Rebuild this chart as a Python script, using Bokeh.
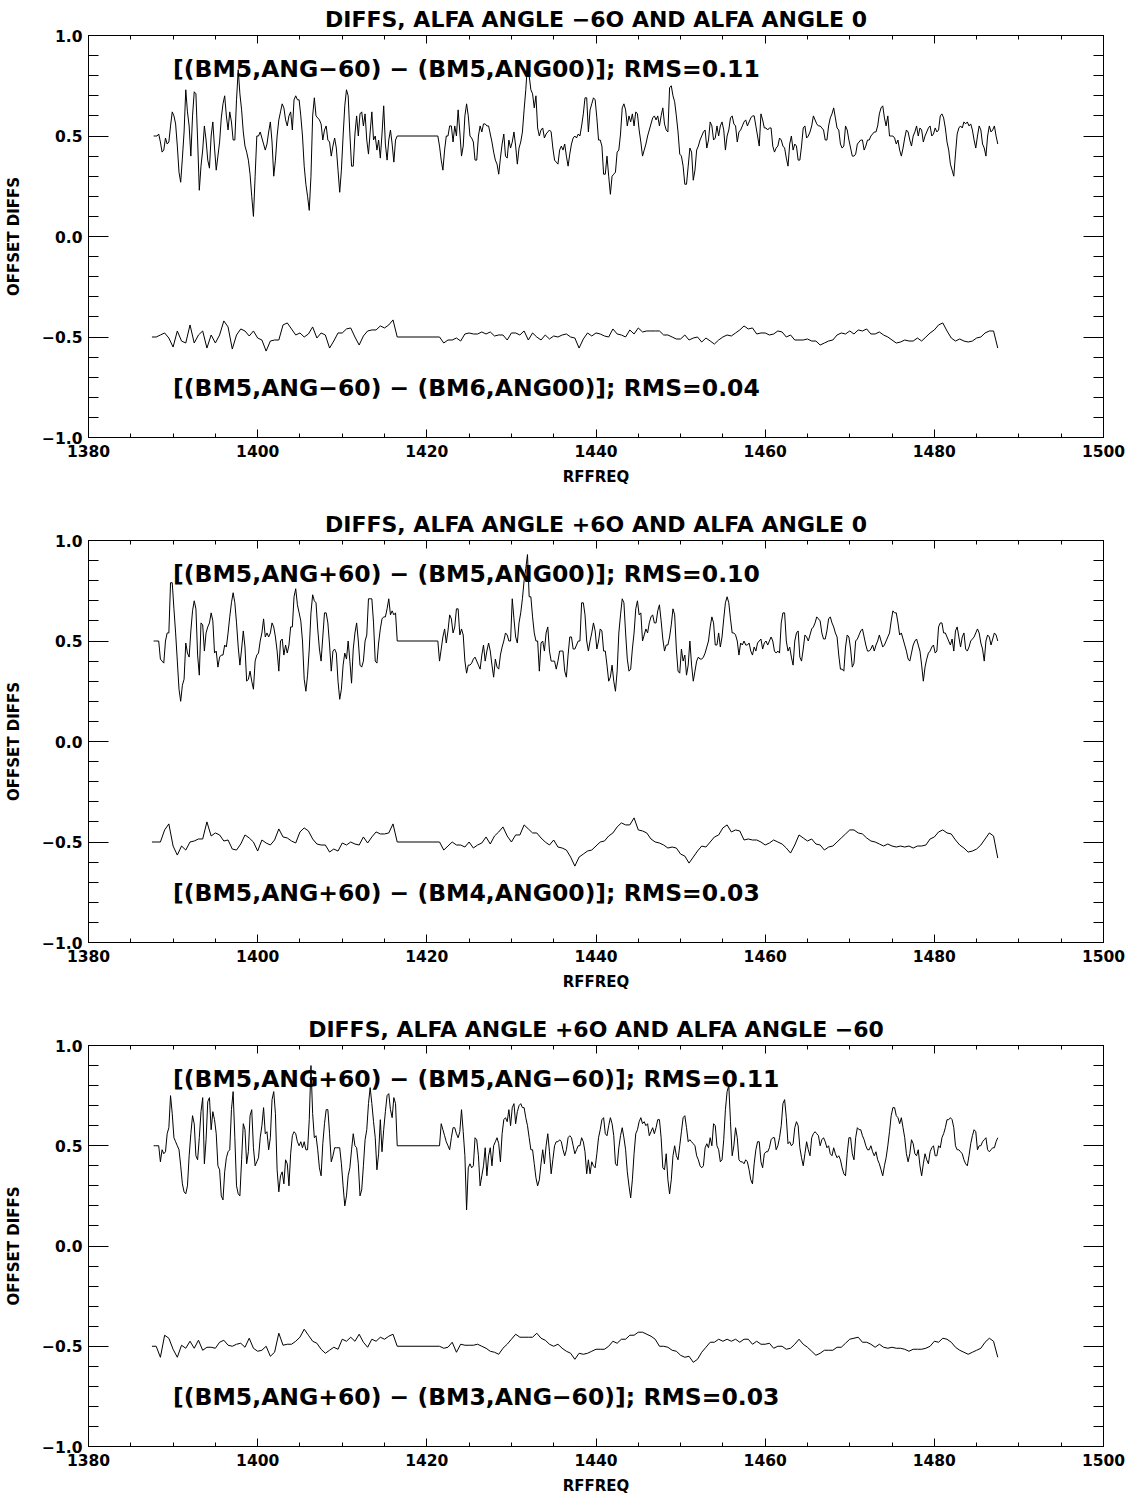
import numpy as np
from bokeh.plotting import figure
from bokeh.models import Range1d, LinearAxis, FixedTicker, Label
from bokeh.layouts import column
from bokeh.embed import file_html
from bokeh.resources import INLINE

FONT = "DejaVu Sans"

# ---------------- axes / text ----------------
x_ticks = [1380, 1400, 1420, 1440, 1460, 1480, 1500]
x_minor = list(range(1380, 1501, 5))
y_ticks = [-1.0, -0.5, 0.0, 0.5, 1.0]
y_minor = [round(-1.0 + 0.1 * i, 1) for i in range(21)]
y_tick_labels = {-1.0: "\u22121.0", -0.5: "\u22120.5", 0.0: "0.0", 0.5: "0.5", 1.0: "1.0"}

titles = [
    "DIFFS, ALFA ANGLE \u22126O AND ALFA ANGLE 0",
    "DIFFS, ALFA ANGLE +6O AND ALFA ANGLE 0",
    "DIFFS, ALFA ANGLE +6O AND ALFA ANGLE \u221260",
]
top_texts = [
    "[(BM5,ANG\u221260) \u2212 (BM5,ANG00)]; RMS=0.11",
    "[(BM5,ANG+60) \u2212 (BM5,ANG00)]; RMS=0.10",
    "[(BM5,ANG+60) \u2212 (BM5,ANG\u221260)]; RMS=0.11",
]
bot_texts = [
    "[(BM5,ANG\u221260) \u2212 (BM6,ANG00)]; RMS=0.04",
    "[(BM5,ANG+60) \u2212 (BM4,ANG00)]; RMS=0.03",
    "[(BM5,ANG+60) \u2212 (BM3,ANG\u221260)]; RMS=0.03",
]
x_title = "RFFREQ"
y_title = "OFFSET DIFFS"
text_x = 1390.0
text_y_top = 0.835
text_y_bot = -0.755

# ---------------- data ----------------
# upper curves: 0.2 MHz channels
top_f0_pre = 1387.7
top_f0_post = 1421.5
top_df = 0.2
top_gap_f = [1416.5, 1421.3]
top_gap_v = 0.5
# lower curves: 0.5 MHz channels
bot_f0_pre = 1387.5
bot_f0_post = 1422.0
bot_df = 0.5
bot_gap_f = [1416.5, 1421.5]
bot_gap_v = -0.5

top1_pre = [
0.50,0.50,0.50,0.51,0.47,0.42,0.43,0.49,0.46,0.47,
0.55,0.62,0.60,0.56,0.45,0.32,0.27,0.39,0.52,0.73,
0.62,0.55,0.40,0.60,0.72,0.71,0.48,0.23,0.35,0.43,
0.55,0.48,0.38,0.34,0.50,0.57,0.44,0.33,0.40,0.47,
0.59,0.66,0.70,0.60,0.53,0.62,0.57,0.48,0.48,0.68,
0.83,0.71,0.63,0.52,0.45,0.42,0.38,0.31,0.20,0.10,
0.30,0.50,0.50,0.52,0.49,0.46,0.43,0.46,0.52,0.57,
0.47,0.30,0.38,0.50,0.58,0.62,0.66,0.64,0.58,0.55,
0.60,0.62,0.53,0.68,0.70,0.68,0.68,0.60,0.50,0.35,
0.26,0.20,0.13,0.30,0.60,0.69,0.60,0.59,0.58,0.56,
0.48,0.53,0.55,0.48,0.47,0.40,0.45,0.49,0.44,0.33,
0.22,0.33,0.50,0.65,0.73,0.70,0.51,0.35,0.35,0.51,
0.60,0.50,0.61,0.62,0.55,0.61,0.48,0.41,0.52,0.62,
0.48,0.50,0.43,0.48,0.39,0.51,0.65,0.46,0.38,0.48,
0.53,0.46,0.37,0.48]
top1_post = [
0.45,0.38,0.33,0.43,0.50,0.50,0.55,0.55,0.47,0.55,
0.50,0.63,0.52,0.40,0.45,0.60,0.66,0.60,0.50,0.49,
0.47,0.38,0.38,0.50,0.55,0.52,0.56,0.56,0.55,0.55,
0.51,0.47,0.42,0.38,0.36,0.31,0.39,0.46,0.51,0.40,
0.39,0.48,0.44,0.47,0.52,0.45,0.36,0.44,0.47,0.52,
0.63,0.73,0.86,0.80,0.73,0.71,0.64,0.70,0.54,0.50,
0.53,0.54,0.49,0.51,0.52,0.53,0.52,0.44,0.38,0.37,
0.36,0.43,0.45,0.43,0.46,0.40,0.35,0.41,0.46,0.49,
0.50,0.49,0.51,0.50,0.55,0.61,0.69,0.69,0.52,0.63,
0.66,0.69,0.68,0.59,0.48,0.48,0.45,0.31,0.31,0.40,
0.30,0.21,0.30,0.31,0.32,0.42,0.43,0.51,0.64,0.66,
0.63,0.55,0.60,0.57,0.61,0.55,0.62,0.61,0.53,0.47,
0.40,0.43,0.46,0.50,0.53,0.56,0.59,0.60,0.58,0.60,
0.55,0.60,0.64,0.56,0.53,0.52,0.74,0.75,0.70,0.67,
0.60,0.52,0.41,0.40,0.35,0.26,0.26,0.35,0.44,0.42,
0.28,0.33,0.43,0.45,0.48,0.50,0.52,0.53,0.44,0.48,
0.57,0.55,0.48,0.49,0.55,0.50,0.55,0.57,0.53,0.43,
0.50,0.53,0.59,0.60,0.56,0.55,0.47,0.52,0.53,0.55,
0.57,0.58,0.55,0.57,0.59,0.60,0.60,0.55,0.50,0.45,
0.61,0.58,0.54,0.54,0.53,0.54,0.54,0.45,0.42,0.44,
0.45,0.49,0.48,0.45,0.44,0.39,0.35,0.46,0.50,0.43,
0.46,0.45,0.38,0.38,0.45,0.54,0.55,0.49,0.50,0.52,
0.55,0.60,0.58,0.56,0.55,0.55,0.54,0.53,0.48,0.48,
0.55,0.59,0.61,0.64,0.59,0.54,0.53,0.46,0.44,0.45,
0.55,0.53,0.48,0.44,0.40,0.40,0.41,0.46,0.47,0.48,
0.48,0.43,0.45,0.48,0.48,0.50,0.51,0.52,0.52,0.55,
0.61,0.64,0.65,0.59,0.55,0.60,0.50,0.50,0.50,0.49,
0.46,0.48,0.43,0.40,0.44,0.49,0.53,0.52,0.48,0.45,
0.50,0.52,0.55,0.50,0.54,0.53,0.47,0.50,0.52,0.54,
0.55,0.50,0.51,0.54,0.52,0.53,0.60,0.61,0.59,0.54,
0.47,0.43,0.36,0.33,0.30,0.41,0.51,0.54,0.55,0.54,
0.57,0.56,0.57,0.55,0.56,0.53,0.48,0.44,0.50,0.55,
0.53,0.46,0.44,0.40,0.50,0.55,0.52,0.53,0.55,0.50,
0.46]

top2_pre = [
0.50,0.50,0.50,0.50,0.41,0.40,0.39,0.50,0.54,0.54,
0.79,0.79,0.66,0.54,0.40,0.26,0.20,0.28,0.31,0.49,
0.44,0.42,0.55,0.65,0.70,0.66,0.43,0.33,0.59,0.58,
0.45,0.54,0.57,0.59,
0.64,0.60,0.44,0.45,0.37,0.42,0.43,0.43,0.48,0.47,
0.54,0.62,0.69,0.74,0.69,0.59,0.47,0.38,0.46,0.55,
0.47,0.30,0.31,0.35,0.30,0.26,0.40,0.43,0.44,0.50,
0.54,0.61,0.52,0.54,0.52,0.54,0.59,0.57,0.52,0.45,
0.35,0.50,0.51,0.43,0.48,0.44,0.48,0.57,0.57,0.72,
0.76,0.68,0.64,0.60,0.50,0.31,0.25,0.33,0.46,0.64,
0.73,0.70,0.69,0.56,0.46,0.40,0.52,
0.64,0.64,0.59,0.48,0.35,0.45,0.46,0.44,0.30,0.21,
0.26,0.38,0.44,0.41,0.50,0.40,0.29,0.46,0.54,0.59,
0.50,0.38,0.37,0.40,0.50,0.53,0.71,0.71,0.71,0.59,
0.40,0.39,0.49,0.56,0.61,0.62,0.62,0.66,0.71,0.63,
0.65,0.63,0.64]
top2_post = [
0.40,0.46,0.52,0.56,0.49,0.55,0.63,0.61,0.54,0.57,
0.66,0.66,0.53,0.56,0.53,0.40,0.34,0.38,0.38,0.39,
0.41,0.42,0.40,0.38,0.36,0.43,0.48,0.40,0.45,0.49,
0.45,0.38,0.32,0.41,0.37,0.36,0.43,0.47,0.50,0.54,
0.53,0.50,0.50,0.71,0.61,0.52,0.49,0.59,0.64,0.71,
0.80,0.86,0.93,0.72,0.72,0.62,0.54,0.50,0.50,0.35,
0.49,0.50,0.45,0.54,0.57,0.45,0.40,0.40,0.40,0.36,
0.40,0.45,0.45,0.45,0.35,0.32,0.43,0.52,0.52,0.46,
0.46,0.48,0.50,0.50,
0.69,0.69,0.63,0.50,0.45,0.50,0.54,0.59,0.55,0.46,
0.50,0.56,0.55,0.45,0.45,0.38,0.30,0.32,0.38,0.30,
0.25,0.35,0.54,0.63,0.71,0.69,0.54,0.41,0.35,0.36,
0.46,0.54,0.66,0.70,0.63,0.64,0.50,0.53,0.56,0.54,
0.59,0.62,0.63,0.59,0.59,0.65,0.68,0.60,0.51,0.45,
0.48,0.48,0.52,0.58,0.66,
0.63,0.46,0.35,0.34,0.46,0.40,0.43,0.33,0.38,0.50,
0.38,0.30,0.35,0.40,0.42,0.41,0.41,0.42,0.44,0.47,
0.50,0.57,0.62,0.59,0.48,0.48,0.54,0.47,0.52,0.61,
0.69,0.72,0.69,0.61,0.54,0.54,0.53,0.50,0.43,0.49,
0.48,0.50,0.48,0.48,0.49,0.45,0.43,0.47,0.45,0.49,
0.50,0.51,0.46,0.49,0.50,0.48,0.50,0.52,0.50,0.45,
0.44,0.45,0.44,0.59,0.64,0.64,0.50,
0.45,0.47,0.42,0.38,0.50,0.54,0.55,0.42,0.40,0.46,
0.53,0.52,0.50,0.53,0.56,0.57,0.59,0.62,0.61,0.60,
0.54,0.51,0.51,0.55,0.61,0.62,0.59,0.57,0.54,0.52,
0.43,0.36,0.36,0.35,0.47,0.53,0.52,0.46,0.37,0.39,
0.50,0.51,0.53,0.55,0.56,0.52,0.48,0.45,0.45,0.46,
0.48,0.45,0.48,0.50,0.53,0.50,0.47,0.48,0.50,0.52,
0.54,0.60,0.65,0.64,0.64,0.59,0.53,
0.54,0.51,0.48,0.45,0.41,0.40,0.44,0.48,0.50,0.51,
0.48,0.45,0.38,0.30,0.37,0.41,0.44,0.45,0.47,0.48,
0.44,0.45,0.57,0.59,0.59,0.54,0.54,0.52,0.50,0.48,
0.51,0.45,0.55,0.57,0.52,0.47,0.52,0.54,0.46,0.45,
0.47,0.50,0.51,0.52,0.54,0.56,0.54,0.49,0.46,0.40,
0.50,0.53,0.52,0.48,0.51,0.54,0.53,0.50]

top3_pre = [
0.50,0.50,0.50,0.50,0.42,0.48,0.46,0.47,0.56,0.59,
0.75,0.66,0.54,0.52,0.50,0.48,0.40,0.31,0.27,0.26,
0.30,0.45,0.56,0.65,0.61,0.45,0.43,0.54,0.67,0.74,
0.41,0.53,0.72,0.74,
0.58,0.67,0.63,0.56,0.40,0.38,0.25,0.23,0.37,0.44,
0.47,0.48,0.68,0.77,0.54,0.30,0.26,0.25,0.43,0.61,
0.58,0.41,0.47,0.65,0.68,0.49,0.40,0.42,0.44,0.54,
0.60,0.69,0.56,0.57,0.48,0.54,0.73,0.77,0.66,0.38,
0.27,0.35,0.37,0.31,0.43,0.41,0.30,0.46,0.55,0.57,
0.56,0.52,0.50,0.52,0.49,0.52,0.48,0.48,0.63,0.90,
0.66,0.54,0.55,0.48,0.39,0.35,0.51,
0.61,0.68,0.68,0.56,0.42,0.45,0.49,0.49,0.49,0.49,
0.41,0.30,0.20,0.25,0.35,0.39,0.48,0.56,0.50,0.49,
0.41,0.25,0.28,0.40,0.53,0.58,0.71,0.79,0.71,0.62,
0.54,0.38,0.46,0.63,0.47,0.58,0.67,0.75,0.76,0.68,
0.64,0.74,0.71]
top3_post = [
0.50,0.61,0.58,0.55,0.52,0.50,0.48,0.54,0.59,0.59,
0.56,0.54,0.57,0.68,0.57,0.45,0.18,0.39,0.41,0.39,
0.40,0.54,0.53,0.45,0.30,0.35,0.40,0.49,0.35,0.45,
0.49,0.40,0.50,0.52,0.54,0.51,0.42,0.56,0.63,0.64,
0.62,0.68,0.60,0.69,0.71,0.61,0.67,0.70,0.71,0.69,
0.69,0.64,0.60,0.54,0.48,0.48,0.41,0.34,0.30,0.33,
0.41,0.48,0.41,0.50,0.56,0.47,0.36,0.43,0.50,0.52,
0.52,0.53,
0.52,0.48,0.45,0.48,0.54,0.55,0.54,0.50,0.46,0.48,
0.50,0.50,
0.54,0.52,0.47,0.36,0.43,0.36,0.42,0.40,0.39,0.46,
0.54,0.58,0.63,0.64,0.56,0.55,0.60,0.64,0.61,0.55,
0.41,0.40,0.49,0.55,0.59,0.54,0.48,0.37,0.30,0.24,
0.33,0.46,0.56,0.58,0.62,0.64,0.61,0.62,0.60,0.61,
0.55,0.57,0.59,0.56,0.59,0.63,0.63,0.54,0.39,0.38,
0.46,0.33,0.26,0.33,0.45,
0.50,0.45,0.43,0.50,0.57,0.64,0.65,0.59,0.52,0.53,
0.52,0.51,0.50,0.45,0.43,0.40,0.39,0.40,0.49,0.51,
0.49,0.54,0.50,0.61,0.60,0.50,0.48,0.42,0.43,0.53,
0.68,0.77,0.80,0.62,0.45,0.50,0.59,0.54,0.43,0.42,
0.42,0.41,0.43,0.42,0.38,0.33,0.31,0.41,0.48,0.52,
0.52,0.42,0.39,0.46,0.47,0.47,0.49,0.53,0.54,0.54,
0.48,0.50,0.54,0.60,0.71,0.73,0.64,
0.51,0.52,0.50,0.51,0.59,0.62,0.60,0.49,0.44,0.40,
0.46,0.52,0.48,0.45,0.54,0.56,0.57,0.56,0.55,0.50,
0.53,0.54,0.52,0.49,0.50,0.46,0.45,0.49,0.46,0.44,
0.45,0.43,0.39,0.36,0.35,0.46,0.54,0.54,0.46,0.43,
0.54,0.59,0.58,0.58,0.55,0.53,0.50,0.48,0.48,0.50,
0.47,0.45,0.47,0.43,0.41,0.38,0.35,0.40,0.44,0.50,
0.57,0.65,0.69,0.69,0.65,0.64,0.61,
0.64,0.59,0.54,0.46,0.42,0.46,0.53,0.51,0.46,0.45,
0.48,0.40,0.35,0.41,0.46,0.43,0.41,0.47,0.49,0.50,
0.45,0.45,0.50,0.49,0.54,0.56,0.59,0.63,0.63,0.64,
0.63,0.59,0.50,0.48,0.48,0.47,0.46,0.43,0.41,0.40,
0.45,0.51,0.55,0.58,0.57,0.48,0.50,0.50,0.52,0.53,
0.54,0.48,0.47,0.48,0.49,0.49,0.52,0.54]

bot1_pre = [
-0.50,-0.50,-0.49,-0.48,-0.505,-0.55,-0.47,-0.52,-0.53,-0.44,
-0.53,-0.49,-0.47,-0.555,-0.49,-0.53,-0.49,-0.42,-0.45,-0.56,
-0.49,-0.46,-0.47,-0.495,-0.47,-0.505,-0.515,-0.57,-0.52,-0.515,
-0.515,-0.44,-0.43,-0.46,-0.49,-0.48,-0.50,-0.485,-0.45,-0.505,
-0.48,-0.49,-0.555,-0.52,-0.48,-0.48,-0.46,-0.455,-0.50,-0.54,
-0.495,-0.47,-0.465,-0.465,-0.445,-0.455,-0.44,-0.415]
bot1_post = [
-0.53,-0.515,-0.515,-0.505,-0.52,-0.485,-0.48,-0.485,-0.485,-0.475,
-0.485,-0.475,-0.495,-0.49,-0.49,-0.515,-0.48,-0.48,-0.49,-0.47,
-0.515,-0.48,-0.50,-0.515,-0.49,-0.51,-0.495,-0.50,-0.49,-0.485,
-0.50,-0.505,-0.555,-0.51,-0.48,-0.495,-0.48,-0.485,-0.495,-0.50,
-0.46,-0.485,-0.49,-0.50,-0.465,-0.485,-0.455,-0.475,-0.47,-0.47,
-0.47,-0.47,-0.49,-0.49,-0.50,-0.51,-0.51,-0.49,-0.515,-0.505,
-0.50,-0.525,-0.505,-0.52,-0.535,-0.515,-0.50,-0.49,-0.495,-0.48,
-0.465,-0.445,-0.46,-0.455,-0.485,-0.48,-0.48,-0.49,-0.485,-0.47,
-0.475,-0.50,-0.49,-0.515,-0.515,-0.515,-0.51,-0.52,-0.52,-0.54,
-0.53,-0.52,-0.515,-0.49,-0.48,-0.485,-0.47,-0.485,-0.465,-0.47,
-0.46,-0.485,-0.485,-0.475,-0.49,-0.50,-0.515,-0.53,-0.525,-0.515,
-0.52,-0.52,-0.505,-0.52,-0.50,-0.48,-0.465,-0.44,-0.43,-0.47,
-0.505,-0.52,-0.51,-0.52,-0.525,-0.52,-0.505,-0.50,-0.48,-0.47,
-0.47,-0.555]

bot2_pre = [
-0.50,-0.50,-0.50,-0.44,-0.41,-0.52,-0.565,-0.52,-0.54,-0.50,
-0.495,-0.485,-0.485,-0.40,-0.47,-0.455,-0.465,-0.495,-0.49,-0.535,
-0.54,-0.51,-0.465,-0.48,-0.50,-0.545,-0.49,-0.505,-0.515,-0.49,
-0.435,-0.475,-0.48,-0.495,-0.505,-0.45,-0.43,-0.445,-0.485,-0.51,
-0.515,-0.515,-0.55,-0.535,-0.545,-0.505,-0.515,-0.50,-0.51,-0.515,
-0.475,-0.505,-0.475,-0.45,-0.46,-0.46,-0.455,-0.41]
bot2_post = [
-0.54,-0.52,-0.50,-0.515,-0.515,-0.525,-0.50,-0.53,-0.515,-0.505,
-0.475,-0.51,-0.47,-0.45,-0.425,-0.47,-0.50,-0.465,-0.465,-0.415,
-0.435,-0.455,-0.455,-0.48,-0.50,-0.515,-0.49,-0.525,-0.53,-0.54,
-0.575,-0.62,-0.575,-0.56,-0.545,-0.54,-0.52,-0.50,-0.495,-0.47,
-0.455,-0.425,-0.405,-0.415,-0.415,-0.38,-0.44,-0.445,-0.455,-0.485,
-0.50,-0.505,-0.515,-0.53,-0.525,-0.53,-0.56,-0.57,-0.605,-0.575,
-0.545,-0.52,-0.525,-0.50,-0.475,-0.465,-0.43,-0.415,-0.45,-0.44,
-0.445,-0.49,-0.485,-0.49,-0.49,-0.50,-0.515,-0.505,-0.49,-0.50,
-0.51,-0.53,-0.555,-0.515,-0.465,-0.48,-0.495,-0.485,-0.51,-0.515,
-0.54,-0.525,-0.52,-0.50,-0.48,-0.46,-0.44,-0.44,-0.455,-0.46,
-0.48,-0.495,-0.50,-0.51,-0.52,-0.51,-0.52,-0.525,-0.52,-0.525,
-0.52,-0.53,-0.52,-0.52,-0.515,-0.485,-0.475,-0.45,-0.44,-0.455,
-0.46,-0.49,-0.515,-0.53,-0.55,-0.545,-0.535,-0.515,-0.485,-0.455,
-0.47,-0.58]

bot3_pre = [
-0.50,-0.50,-0.555,-0.445,-0.46,-0.515,-0.555,-0.495,-0.51,-0.475,
-0.51,-0.47,-0.52,-0.505,-0.505,-0.51,-0.48,-0.47,-0.495,-0.50,
-0.49,-0.485,-0.505,-0.46,-0.51,-0.525,-0.52,-0.50,-0.55,-0.53,
-0.435,-0.495,-0.49,-0.49,-0.475,-0.455,-0.415,-0.445,-0.475,-0.485,
-0.515,-0.535,-0.52,-0.505,-0.515,-0.465,-0.475,-0.455,-0.475,-0.44,
-0.48,-0.505,-0.465,-0.475,-0.455,-0.465,-0.45,-0.44]
bot3_post = [
-0.51,-0.505,-0.48,-0.53,-0.49,-0.495,-0.495,-0.495,-0.49,-0.50,
-0.51,-0.525,-0.53,-0.54,-0.51,-0.49,-0.465,-0.44,-0.455,-0.455,
-0.455,-0.455,-0.435,-0.46,-0.47,-0.49,-0.50,-0.49,-0.51,-0.525,
-0.535,-0.565,-0.535,-0.54,-0.535,-0.525,-0.515,-0.515,-0.515,-0.50,
-0.475,-0.485,-0.465,-0.465,-0.445,-0.445,-0.43,-0.43,-0.44,-0.45,
-0.465,-0.50,-0.50,-0.505,-0.52,-0.525,-0.545,-0.555,-0.55,-0.58,
-0.565,-0.53,-0.505,-0.48,-0.48,-0.465,-0.475,-0.465,-0.475,-0.465,
-0.48,-0.465,-0.465,-0.49,-0.475,-0.49,-0.49,-0.485,-0.51,-0.50,
-0.50,-0.515,-0.51,-0.49,-0.465,-0.49,-0.505,-0.525,-0.545,-0.535,
-0.52,-0.52,-0.52,-0.505,-0.505,-0.485,-0.465,-0.46,-0.455,-0.48,
-0.48,-0.49,-0.505,-0.49,-0.505,-0.51,-0.505,-0.51,-0.51,-0.515,
-0.525,-0.515,-0.515,-0.515,-0.51,-0.50,-0.475,-0.48,-0.46,-0.465,
-0.48,-0.505,-0.52,-0.53,-0.54,-0.53,-0.52,-0.51,-0.48,-0.46,
-0.475,-0.555]

panels = [
    (top1_pre, top1_post, bot1_pre, bot1_post),
    (top2_pre, top2_post, bot2_pre, bot2_post),
    (top3_pre, top3_post, bot3_pre, bot3_post),
]


def series(pre, post, f0_pre, f0_post, df, gap_f, gap_v):
    x = np.concatenate([f0_pre + df * np.arange(len(pre)), np.array(gap_f),
                        f0_post + df * np.arange(len(post))])
    y = np.concatenate([np.array(pre), np.array([gap_v, gap_v]), np.array(post)])
    return x, y


def style_axis(ax, tick_in, minor_in):
    ax.axis_line_color = "black"
    ax.axis_line_width = 1
    ax.major_tick_line_color = "black"
    ax.minor_tick_line_color = "black"
    ax.major_tick_in = tick_in
    ax.major_tick_out = 0
    ax.minor_tick_in = minor_in
    ax.minor_tick_out = 0


def bare_axis(ticker, tick_in, minor_in):
    ax = LinearAxis(ticker=ticker)
    style_axis(ax, tick_in, minor_in)
    ax.major_label_text_font_size = "1px"
    ax.major_label_text_color = None
    ax.major_label_text_alpha = 0
    ax.major_label_standoff = 0
    return ax


def make_panel(i, height, bottom_border):
    p = figure(width=1133, height=height,
               x_range=Range1d(1380, 1500), y_range=Range1d(-1.0, 1.0),
               output_backend="svg", toolbar_location=None,
               min_border_left=88, min_border_right=30,
               min_border_top=35, min_border_bottom=bottom_border,
               background_fill_color="white", border_fill_color="white",
               outline_line_color="black", outline_line_width=1)
    p.xgrid.visible = False
    p.ygrid.visible = False

    p.title.text = titles[i]
    p.title.align = "center"
    p.title.text_font = FONT
    p.title.text_font_size = "22px"
    p.title.text_font_style = "bold"
    p.title.text_color = "black"
    p.title.standoff = 8

    xt = FixedTicker(ticks=x_ticks, minor_ticks=x_minor)
    yt = FixedTicker(ticks=y_ticks, minor_ticks=y_minor)

    xa = p.xaxis[0]
    xa.ticker = xt
    style_axis(xa, 8, 4)
    xa.major_label_text_font = FONT
    xa.major_label_text_font_size = "15.5px"
    xa.major_label_text_font_style = "bold"
    xa.major_label_text_color = "black"
    xa.major_label_standoff = 7
    xa.axis_label = x_title
    xa.axis_label_text_font = FONT
    xa.axis_label_text_font_size = "15px"
    xa.axis_label_text_font_style = "bold"
    xa.axis_label_text_color = "black"
    xa.axis_label_standoff = 8

    ya = p.yaxis[0]
    ya.ticker = yt
    style_axis(ya, 20, 10)
    ya.major_label_overrides = y_tick_labels
    ya.major_label_text_font = FONT
    ya.major_label_text_font_size = "15.5px"
    ya.major_label_text_font_style = "bold"
    ya.major_label_text_color = "black"
    ya.major_label_standoff = 6
    ya.axis_label = y_title
    ya.axis_label_text_font = FONT
    ya.axis_label_text_font_size = "15px"
    ya.axis_label_text_font_style = "bold"
    ya.axis_label_text_color = "black"
    ya.axis_label_standoff = 16

    p.add_layout(bare_axis(yt, 20, 10), "right")
    p.add_layout(bare_axis(xt, 8, 4), "above")

    tp, tq, bp, bq = panels[i]
    x1, y1 = series(tp, tq, top_f0_pre, top_f0_post, top_df, top_gap_f, top_gap_v)
    x2, y2 = series(bp, bq, bot_f0_pre, bot_f0_post, bot_df, bot_gap_f, bot_gap_v)
    p.line(x1, y1, line_color="black", line_width=1)
    p.line(x2, y2, line_color="black", line_width=1)

    for txt, ty in ((top_texts[i], text_y_top), (bot_texts[i], text_y_bot)):
        p.add_layout(Label(x=text_x, y=ty, text=txt, text_font=FONT,
                           text_font_size="23.5px", text_font_style="bold",
                           text_color="black", text_baseline="middle"))
    return p


p1 = make_panel(0, 505, 68)
p2 = make_panel(1, 505, 68)
p3 = make_panel(2, 487, 50)
layout = column(p1, p2, p3)

open("out.html", "w").write(file_html(layout, INLINE))
